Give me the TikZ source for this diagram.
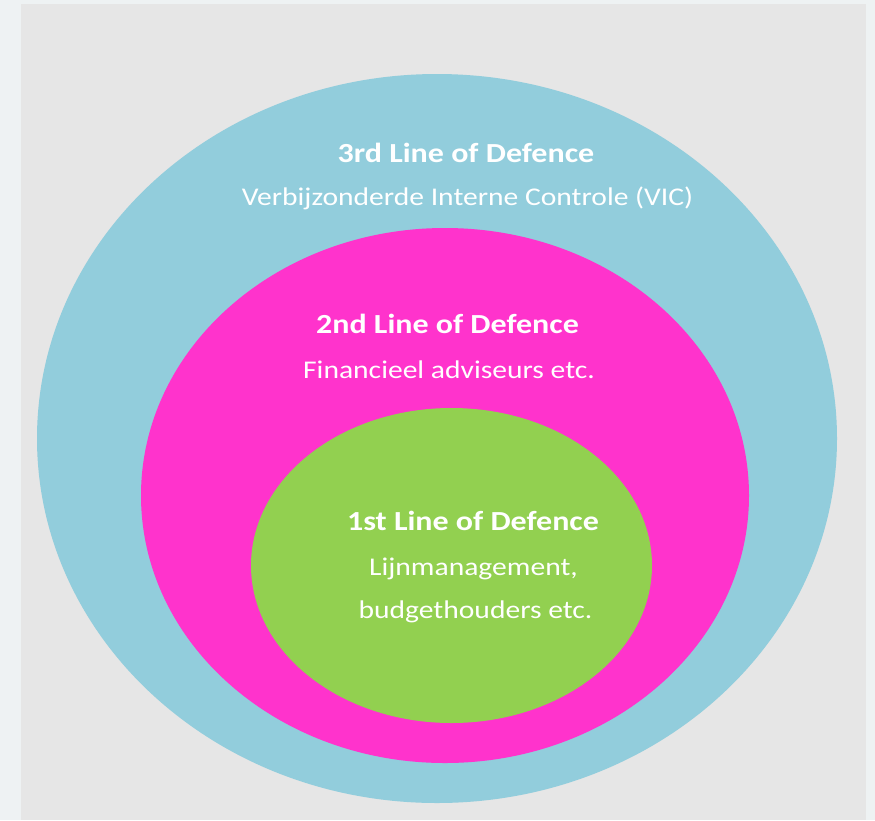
\documentclass[tikz,border=0pt]{standalone}
\usepackage{fontspec}
\setmainfont{Carlito}[FakeStretch=1.16]
\usetikzlibrary{shapes.geometric}
\definecolor{bgouter}{HTML}{EEF2F3}
\definecolor{bggray}{HTML}{E6E6E6}
\definecolor{ringthree}{HTML}{92CDDC}
\definecolor{ringtwo}{HTML}{FF33CC}
\definecolor{ringone}{HTML}{92D050}
\tikzset{
  ring/.style={ellipse, draw=none, inner sep=0pt},
  title/.style={anchor=base, text=white, font=\fontsize{27.6}{32}\selectfont\bfseries, inner sep=0pt},
  sub/.style={anchor=base, text=white, font=\fontsize{25.5}{31}\selectfont, inner sep=0pt}
}
\begin{document}
\begin{tikzpicture}[x=1pt,y=-1pt]
\fill[bgouter] (0,0) rectangle (875,820);
\useasboundingbox (0,0) rectangle (875,820);
\fill[bggray] (21,4) rectangle (866,820);
\node[ring, fill=ringthree, minimum width=800pt, minimum height=729pt] (l3) at (437,438.5) {};
\node[ring, fill=ringtwo, minimum width=608pt, minimum height=535pt] (l2) at (445,495.5) {};
\node[ring, fill=ringone, minimum width=401pt, minimum height=315pt] (l1) at (451.5,565.5) {};
\node[title] (t3) at (466,162) {3rd Line of Defence};
\node[sub] (s3) at (467.5,205) {Verbijzonderde Interne Controle (VIC)};
\node[title] (t2) at (447.5,333) {2nd Line of Defence};
\node[sub] (s2) at (449,378) {Financieel adviseurs etc.};
\node[title] (t1) at (473,530) {1st Line of Defence};
\node[sub] (s1a) at (473.5,575) {Lijnmanagement,};
\node[sub] (s1b) at (475.5,618) {budgethouders etc.};
\end{tikzpicture}
\end{document}
